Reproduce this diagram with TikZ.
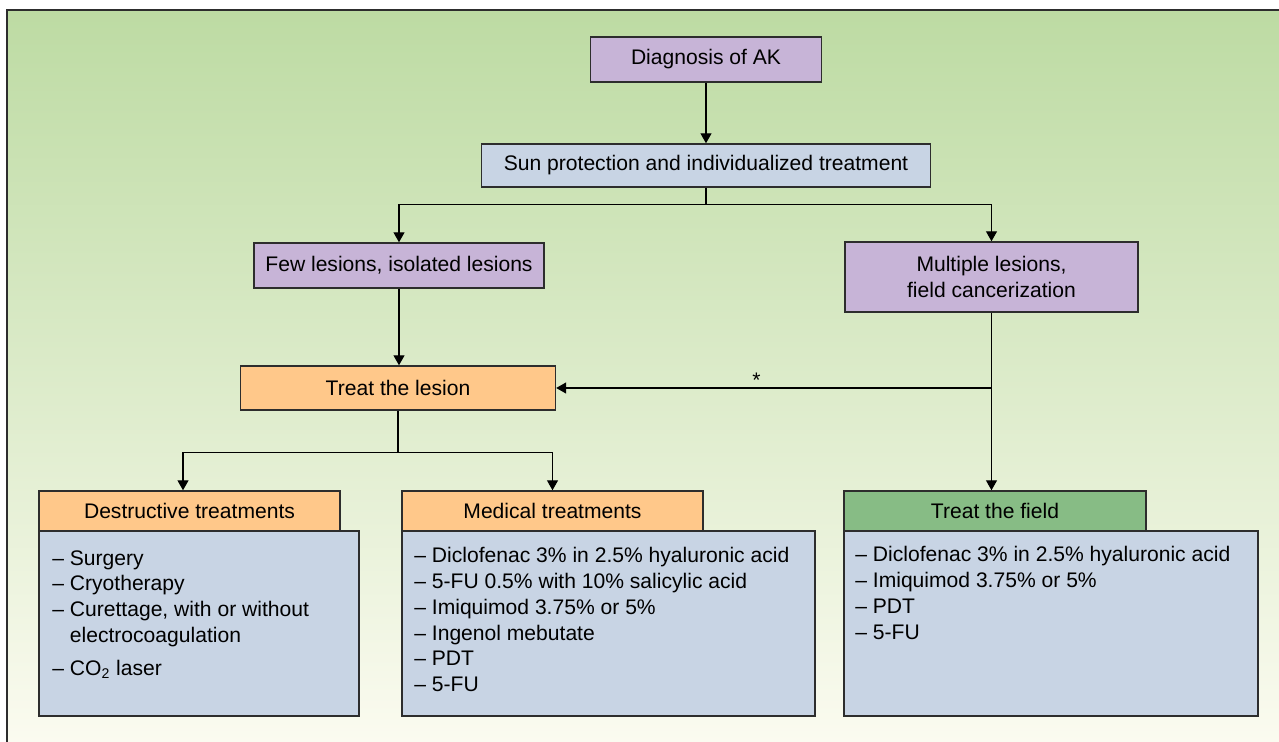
\documentclass[tikz,border=0pt]{standalone}
\usepackage{fontspec}
\setmainfont{Liberation Sans}
\usetikzlibrary{arrows.meta}

\definecolor{bgtop}{RGB}{189,219,163}
\definecolor{bgmid}{RGB}{217,233,199}
\definecolor{bgbot}{RGB}{251,251,240}
\definecolor{lilac}{RGB}{199,180,215}
\definecolor{greyblue}{RGB}{200,212,228}
\definecolor{peach}{RGB}{255,200,138}
\definecolor{leaf}{RGB}{135,188,133}
\definecolor{edge}{RGB}{45,45,45}

\begin{document}
\begin{tikzpicture}[x=0.02cm, y=-0.02cm,
        font=\fontsize{12pt}{14.7pt}\selectfont,
        box/.style={draw=edge, line width=0.85pt, inner sep=0pt},
        arr/.style={draw=black, line width=0.6pt, -{Triangle[length=5.6pt, width=6.2pt]}},
        list/.style={anchor=north west, inner sep=0pt, align=left}]
        \useasboundingbox (0,0) rectangle (1279,742);
        \fill[top color=bgtop, middle color=bgmid, bottom color=bgbot] (7,10) rectangle (1279,742);
        \draw[edge, line width=0.85pt] (7,742) -- (7,10) -- (1279,10);

        \node[box, fill=lilac, minimum width=4.62cm, minimum height=0.9cm] (diag) at (706,59.5) {Diagnosis of AK};
        \node[box, fill=greyblue, minimum width=8.98cm, minimum height=0.86cm] (sun) at (706,165.5) {Sun protection and individualized treatment};
        \node[box, fill=lilac, minimum width=5.8cm, minimum height=0.9cm] (few) at (399,265.5) {Few lesions, isolated lesions};
        \node[box, fill=lilac, minimum width=5.86cm, minimum height=1.4cm, align=center] (multi) at (991.5,277) {Multiple lesions,\\field cancerization};
        \node[box, fill=peach, minimum width=6.3cm, minimum height=0.88cm] (lesion) at (398,388) {Treat the lesion};

        \node[box, fill=greyblue, minimum width=6.4cm, minimum height=3.7cm] (destbody) at (199,623.5) {};
        \node[box, fill=peach, minimum width=6.02cm, minimum height=0.8cm] (desthd) at (189.5,511) {Destructive treatments};
        \node[box, fill=greyblue, minimum width=8.26cm, minimum height=3.7cm] (medbody) at (608.5,623.5) {};
        \node[box, fill=peach, minimum width=6.02cm, minimum height=0.8cm] (medhd) at (552.5,511) {Medical treatments};
        \node[box, fill=greyblue, minimum width=8.28cm, minimum height=3.7cm] (fieldbody) at (1051,623.5) {};
        \node[box, fill=leaf, minimum width=6.04cm, minimum height=0.8cm] (fieldhd) at (995,511) {Treat the field};

        \node[list] (destlist) at (52,550) {– Surgery\\– Cryotherapy\\– Curettage, with or without\\\phantom{– }electrocoagulation\\[0.14cm]– CO\textsubscript{2} laser};
        \node[list] (medlist) at (414,547) {– Diclofenac 3\% in 2.5\% hyaluronic acid\\– 5-FU 0.5\% with 10\% salicylic acid\\– Imiquimod 3.75\% or 5\%\\– Ingenol mebutate\\– PDT\\– 5-FU};
        \node[list] (fieldlist) at (855,546) {– Diclofenac 3\% in 2.5\% hyaluronic acid\\– Imiquimod 3.75\% or 5\%\\– PDT\\– 5-FU};

        \draw[arr] (diag.south) -- (diag.south |- sun.north);
        \draw[arr] (sun.south) -- ++(0,17) -| (few.north);
        \draw[arr] (sun.south) -- ++(0,17) -| (multi.north);
        \draw[arr] (few.south) -- (few.south |- lesion.north);
        \draw[arr] (lesion.south) -- ++(0,42) -| ([xshift=-0.13cm]desthd.north);
        \draw[arr] (lesion.south) -- ++(0,42) -| (medhd.north);
        \draw[arr] (multi.south) -- (multi.south |- fieldhd.north);
        \draw[arr] (multi.south |- lesion.east) -- node[pos=0.54, anchor=base, inner sep=0pt] {*} (lesion.east);
\end{tikzpicture}
\end{document}
